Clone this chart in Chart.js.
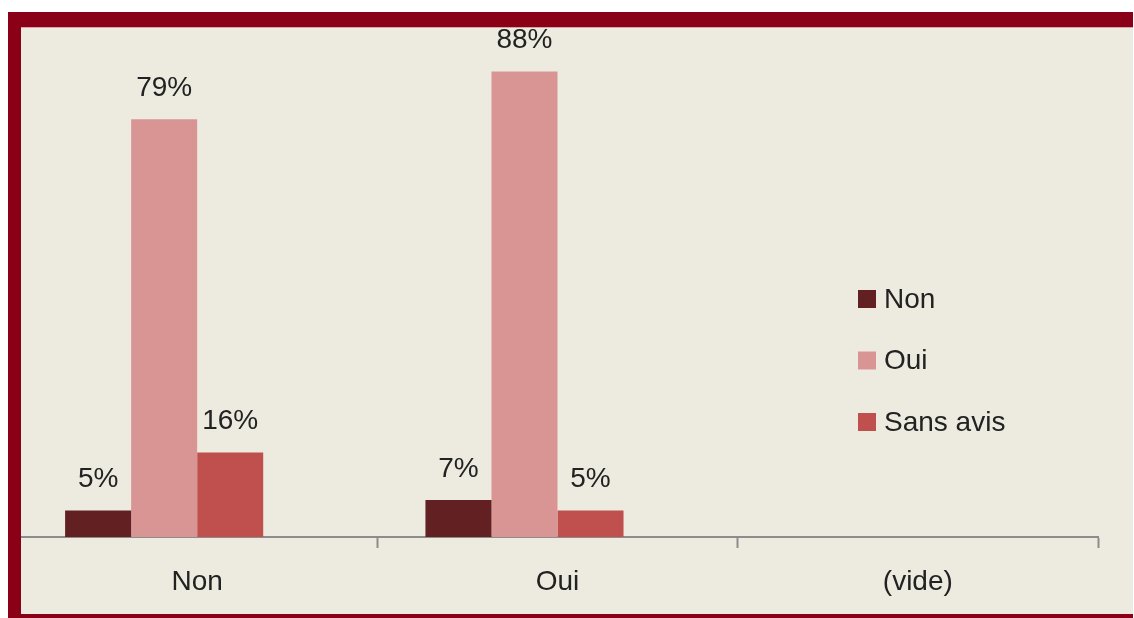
<!DOCTYPE html>
<html>
<head>
<meta charset="utf-8">
<script src="https://cdn.jsdelivr.net/npm/chart.js@4"></script>
<style>
  html, body { margin: 0; padding: 0; background: #ffffff; }
  body { width: 1134px; height: 618px; position: relative; overflow: hidden; }
  #frame {
    position: absolute; left: 8px; top: 12px;
    width: 1112px; height: 587px;
    border-top: 15px solid #8a0017;
    border-left: 13px solid #8a0017;
    border-bottom: 4px solid #8a0017;
    background: #edeadf;
    box-shadow: inset 0 1px 0 #d9a3a6;
    overflow: hidden;
  }
  #wrap { position: absolute; left: -4px; top: 0; width: 1116px; height: 587px; }
</style>
</head>
<body>
<div id="frame"><div id="wrap"><canvas id="c" width="1116" height="587"></canvas></div></div>
<script>
// Categories (answers grouped by the first question)
const categories = ['Non', 'Oui', '(vide)'];
// Share of each answer within a category, in percent
const nonValues = [5, 7, null];
const ouiValues = [79, 88, null];
const sansAvisValues = [16, 5, null];
const videValues = [null, null, null];

const seriesNames = ['Non', 'Oui', 'Sans avis'];
const seriesColors = ['#632023', '#d99594', '#c0504d'];

const FONT = "'Liberation Sans', Arial, sans-serif";
const TEXT = '#222222';

// Percentage labels drawn above each bar
const valueLabels = {
  id: 'valueLabels',
  afterDatasetsDraw(chart) {
    const ctx = chart.ctx;
    ctx.save();
    ctx.font = '28px ' + FONT;
    ctx.fillStyle = TEXT;
    ctx.textAlign = 'center';
    ctx.textBaseline = 'middle';
    chart.data.datasets.forEach((ds, di) => {
      if (ds.noLabels) return;
      chart.getDatasetMeta(di).data.forEach((el, i) => {
        const v = ds.data[i];
        if (v === null || v === undefined) return;
        ctx.fillText(v + '%', el.x, el.y - 31);
      });
    });
    ctx.restore();
  }
};

// Legend placed inside the plot on the right
const insideLegend = {
  id: 'insideLegend',
  afterDraw(chart) {
    const ctx = chart.ctx;
    ctx.save();
    ctx.font = '28px ' + FONT;
    ctx.textBaseline = 'middle';
    ctx.textAlign = 'left';
    chart.data.datasets.forEach((ds, di) => {
      if (ds.noLabels) return;
      const cy = 272 + di * 61.5;
      ctx.fillStyle = ds.backgroundColor;
      ctx.fillRect(841, cy - 9, 18, 18);
      ctx.fillStyle = TEXT;
      ctx.fillText(ds.label, 867, cy + 1);
    });
    ctx.restore();
  }
};

new Chart(document.getElementById('c'), {
  type: 'bar',
  data: {
    labels: categories,
    datasets: [
      { label: seriesNames[0], data: nonValues, backgroundColor: seriesColors[0] },
      { label: seriesNames[1], data: ouiValues, backgroundColor: seriesColors[1] },
      { label: seriesNames[2], data: sansAvisValues, backgroundColor: seriesColors[2] },
      { label: '(vide)', data: videValues, backgroundColor: 'transparent', noLabels: true }
    ]
  },
  options: {
    responsive: false,
    animation: false,
    layout: { padding: { left: 0, right: 35, top: 34, bottom: 0 } },
    datasets: { bar: { categoryPercentage: 0.733, barPercentage: 1.0, borderWidth: 0 } },
    plugins: { legend: { display: false }, tooltip: { enabled: false } },
    scales: {
      y: { display: false, min: 0, max: 90 },
      x: {
        afterFit(scale) { scale.height = 77; },
        grid: {
          offset: true,
          drawOnChartArea: false,
          drawTicks: true,
          tickLength: 11,
          tickWidth: 2,
          color: '#8c8c8c'
        },
        border: { display: true, color: '#8c8c8c', width: 2 },
        ticks: { color: TEXT, font: { family: FONT, size: 28 }, padding: 17 }
      }
    }
  },
  plugins: [valueLabels, insideLegend]
});
</script>
</body>
</html>
